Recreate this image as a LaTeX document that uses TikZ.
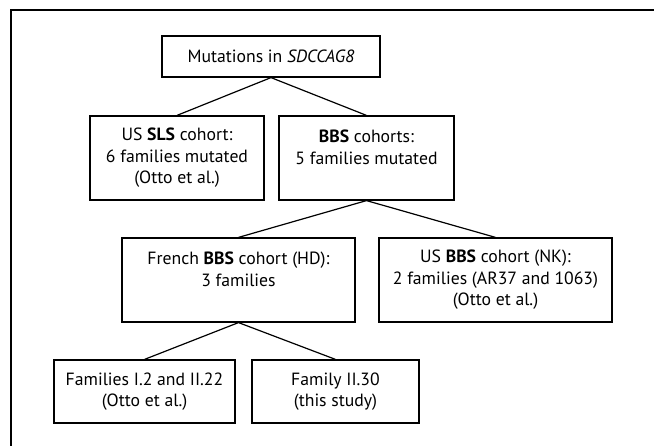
\documentclass[tikz,border=0pt]{standalone}
\usepackage{fontspec}
\setmainfont{PT Sans}

\begin{document}
\begin{tikzpicture}[x=1pt, y=-1pt, line width=1.2pt,
  cbox/.style={draw, inner sep=0pt, align=center, font=\fontsize{17.7}{21.5}\selectfont}]
\useasboundingbox (0,0) rectangle (654,446);
\draw (11,446) -- (11,10) -- (654,10);
\node[cbox, minimum width=218pt, minimum height=41pt] (mut) at (271,56.5) {Mutations in \textit{SDCCAG8}};
\node[cbox, minimum width=174pt, minimum height=84pt] (sls) at (177,158) {US \textbf{SLS} cohort:\\6 families mutated\\(Otto et al.)};
\node[cbox, minimum width=175pt, minimum height=84pt] (bbs) at (366.5,158) {\textbf{BBS} cohorts:\\5 families mutated\\~};
\node[cbox, minimum width=233pt, minimum height=84pt] (hd) at (238.5,280) {French \textbf{BBS} cohort (HD):\\3 families\\~};
\node[cbox, minimum width=233pt, minimum height=84pt] (nk) at (495.5,280) {US \textbf{BBS} cohort (NK):\\2 families (AR37 and 1063)\\(Otto et al.)};
\node[cbox, minimum width=181pt, minimum height=63pt] (fam) at (144.5,391.5) {Families I.2 and II.22\\(Otto et al.)};
\node[cbox, minimum width=167pt, minimum height=63pt] (new) at (335.5,391.5) {Family II.30\\(this study)};
\foreach \a/\b in {mut/sls, mut/bbs, bbs/hd, bbs/nk, hd/fam, hd/new}{
\draw (\a.south) -- (\b.north);
}
\end{tikzpicture}
\end{document}
